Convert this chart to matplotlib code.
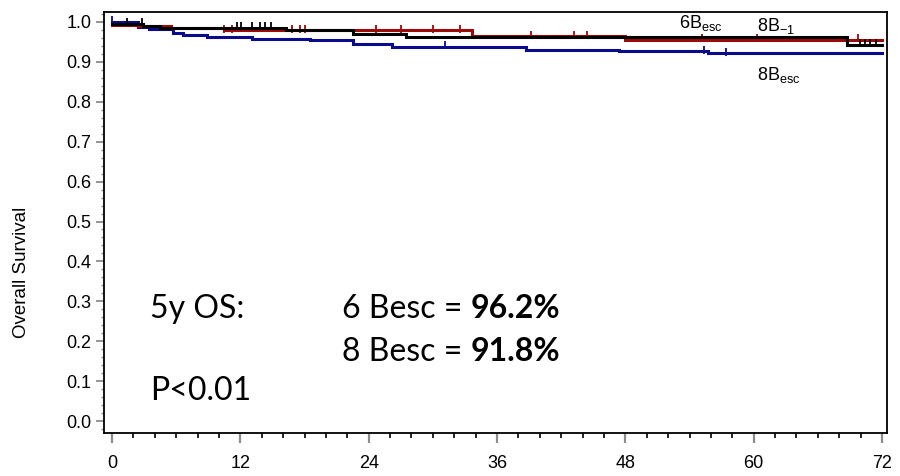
import numpy as np
import matplotlib
matplotlib.use("Agg")
import matplotlib.pyplot as plt
from matplotlib.ticker import MultipleLocator, FormatStrFormatter

# Kaplan-Meier steps (months, survival)
t_6esc = [0, 2.9, 4.5, 16.3, 22.5, 27.5, 68.7, 72]
s_6esc = [0.996, 0.990, 0.985, 0.979, 0.971, 0.963, 0.943, 0.943]
t_8m1 = [0, 2.4, 5.5, 10.5, 33.7, 48.0, 72]
s_8m1 = [0.992, 0.989, 0.985, 0.979, 0.964, 0.956, 0.956]
t_8esc = [0, 2.4, 3.5, 5.7, 6.6, 8.9, 13.1, 18.5, 22.5, 26.2, 38.7, 47.4, 55.7, 72]
s_8esc = [1.0, 0.988, 0.982, 0.973, 0.967, 0.962, 0.958, 0.954, 0.946, 0.938,
          0.931, 0.927, 0.921, 0.921]

# censored observations
c_6esc = [1.4, 2.8, 11.7, 12.1, 13.1, 13.8, 14.3, 14.9, 69.9, 70.4, 70.9, 71.4]
c_8m1 = [10.5, 11.2, 16.8, 17.6, 18.0, 24.7, 27.0, 30.0, 32.5, 39.2, 43.2, 44.4,
         55.2, 60.3, 69.8]
c_8esc = [0.0, 31.1, 55.4, 57.4]

x_ticks = [0, 12, 24, 36, 48, 60, 72]
y_ticks = [0.0, 0.1, 0.2, 0.3, 0.4, 0.5, 0.6, 0.7, 0.8, 0.9, 1.0]

blue = '#0a0a8c'
red = '#9c0a0a'
black = '#000000'


def surv_at(t, s, when):
    idx = np.searchsorted(t, when, side='right') - 1
    return np.asarray(s)[np.clip(idx, 0, len(s) - 1)]


plt.rcParams['font.family'] = ['Liberation Sans', 'DejaVu Sans']
plt.rcParams['mathtext.default'] = 'regular'

fig = plt.figure(figsize=(9, 4.76), dpi=100)
ax = fig.add_axes([0.1156, 0.0903, 0.870, 0.8845])

groups = [(t_8esc, s_8esc, c_8esc, blue),
          (t_8m1, s_8m1, c_8m1, red),
          (t_6esc, s_6esc, c_6esc, black)]
for t, s, c, col in groups:
    ax.step(t, s, where='post', color=col, lw=2.2, solid_joinstyle='miter')
    ax.plot(c, surv_at(t, s, c) + 0.004, ls='none', marker='|', ms=6,
            mew=1.3, color=col)

ax.set_xlim(-0.75, 72.47)
ax.set_ylim(-0.030, 1.025)
ax.set_xticks(x_ticks)
ax.set_yticks(y_ticks)
ax.yaxis.set_major_formatter(FormatStrFormatter('%.1f'))
ax.xaxis.set_minor_locator(MultipleLocator(2))
ax.yaxis.set_minor_locator(MultipleLocator(0.02))

for sp in ax.spines.values():
    sp.set_linewidth(1.3)
ax.tick_params(axis='y', which='major', length=6, width=1.3, color='#8c8c8c',
               labelsize=13, pad=3)
ax.tick_params(axis='y', which='minor', length=2.5, width=1.0, color='#8c8c8c')
ax.tick_params(axis='x', which='major', length=7, width=1.6, color='#8c8c8c',
               labelsize=13, pad=9)
ax.tick_params(axis='x', which='minor', length=3.5, width=1.2, color='black')

ax.set_ylabel('Overall Survival', fontsize=13.5)
ax.yaxis.set_label_coords(-0.0945, 0.382)

# group labels
ax.text(53.0, 0.985, '6B$_{esc}$', fontsize=13, va='baseline')
ax.text(60.3, 0.978, '8B$_{-1}$', fontsize=13, va='baseline')
ax.text(60.3, 0.855, '8B$_{esc}$', fontsize=13, va='baseline')

# summary text
big = dict(fontsize=23, family=['Lato', 'DejaVu Sans'], va='baseline')
ax.text(3.55, 0.2575, '5y OS:', **big)
ax.text(21.5, 0.2575, '6 Besc = ', **big)
ax.text(21.5, 0.15, '8 Besc = ', **big)
ax.text(3.55, 0.0525, 'P<0.01', **big)
fig.canvas.draw()
r = fig.canvas.get_renderer()
for row_y, val in [(0.2575, '96.2%'), (0.15, '91.8%')]:
    lbl = [tx for tx in ax.texts if tx.get_position()[1] == row_y
           and tx.get_text().endswith('= ')][0]
    bb = lbl.get_window_extent(r).transformed(ax.transData.inverted())
    ax.text(bb.x1, row_y, val, fontweight='bold', **big)

fig.savefig('out.png', dpi=100)
